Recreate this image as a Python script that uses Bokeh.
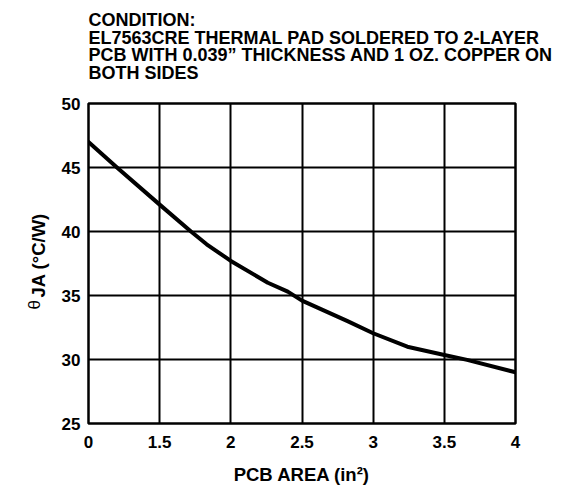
import math
from bokeh.plotting import figure
from bokeh.models import Range1d, Label, FixedTicker
from bokeh.embed import file_html
from bokeh.resources import INLINE

# Data
pcb_area = [1.0, 1.2, 1.5, 1.72, 1.83, 2.0, 2.26, 2.4, 2.5, 2.82, 3.0, 3.24, 3.5, 3.66, 4.0]
theta_ja = [47.0, 45.0, 42.1, 40.0, 39.0, 37.7, 36.0, 35.3, 34.6, 33.0, 32.05, 31.0, 30.35, 29.97, 29.0]
x_ticks = [1, 1.5, 2, 2.5, 3, 3.5, 4]
x_tick_labels = ["0", "1.5", "2", "2.5", "3", "3.5", "4"]
y_ticks = [25, 30, 35, 40, 45, 50]
title_lines = [
    "CONDITION:",
    "EL7563CRE THERMAL PAD SOLDERED TO 2-LAYER",
    "PCB WITH 0.039\u201d THICKNESS AND 1 OZ. COPPER ON",
    "BOTH SIDES",
]

FONT = "Liberation Sans"

p = figure(width=574, height=489, output_backend="svg", toolbar_location=None,
           x_range=Range1d(1, 4), y_range=Range1d(25, 50),
           min_border_left=88, min_border_right=59, min_border_top=103, min_border_bottom=66)

p.line(pcb_area, theta_ja, line_color="black", line_width=4, line_join="round", line_cap="round")

p.xaxis.ticker = FixedTicker(ticks=x_ticks)
p.xaxis.major_label_overrides = {t: l for t, l in zip(x_ticks, x_tick_labels)}
p.yaxis.ticker = FixedTicker(ticks=y_ticks)

for ax in (p.xaxis, p.yaxis):
    ax.axis_line_color = None
    ax.major_tick_line_color = None
    ax.minor_tick_line_color = None
    ax.major_tick_out = 0
    ax.major_tick_in = 0
    ax.major_label_text_font = FONT
    ax.major_label_text_font_style = "bold"
    ax.major_label_text_font_size = "17px"
    ax.major_label_text_color = "black"
p.xaxis.major_label_standoff = 12
p.yaxis.major_label_standoff = 8

p.xaxis.axis_label = "PCB AREA (in\u00b2)"
p.xaxis.axis_label_text_font = FONT
p.xaxis.axis_label_text_font_style = "bold"
p.xaxis.axis_label_text_font_size = "18.5px"
p.xaxis.axis_label_text_color = "black"
p.xaxis.axis_label_standoff = 13

p.xgrid.ticker = FixedTicker(ticks=x_ticks)
p.ygrid.ticker = FixedTicker(ticks=y_ticks)
p.grid.grid_line_color = "black"
p.grid.grid_line_width = 2
p.grid.grid_line_alpha = 1.0

p.outline_line_color = "black"
p.outline_line_width = 2.5
p.outline_line_alpha = 1.0

# Title lines, placed in the top panel
title_baselines = [19.5, 37, 54.5, 72]
for txt, yb in zip(title_lines, title_baselines):
    p.add_layout(Label(x=88, y=yb, x_units="canvas", y_units="canvas", text=txt,
                       text_font=FONT, text_font_style="bold", text_font_size="18px",
                       text_align="left", text_baseline="alphabetic", text_color="black"), "above")

# Y axis label (theta with subscript JA) placed in the left panel
p.add_layout(Label(x=34, y=114, x_units="canvas", y_units="screen", text="\u03b8",
                   angle=math.pi / 2, text_font=FONT, text_font_size="17px",
                   text_align="left", text_baseline="alphabetic", text_color="black"), "left")
p.add_layout(Label(x=38, y=126, x_units="canvas", y_units="screen", text="JA (\u00b0C/W)",
                   angle=math.pi / 2, text_font=FONT, text_font_style="bold", text_font_size="18.5px",
                   text_align="left", text_baseline="alphabetic", text_color="black"), "left")

open("out.html", "w").write(file_html(p, INLINE))
